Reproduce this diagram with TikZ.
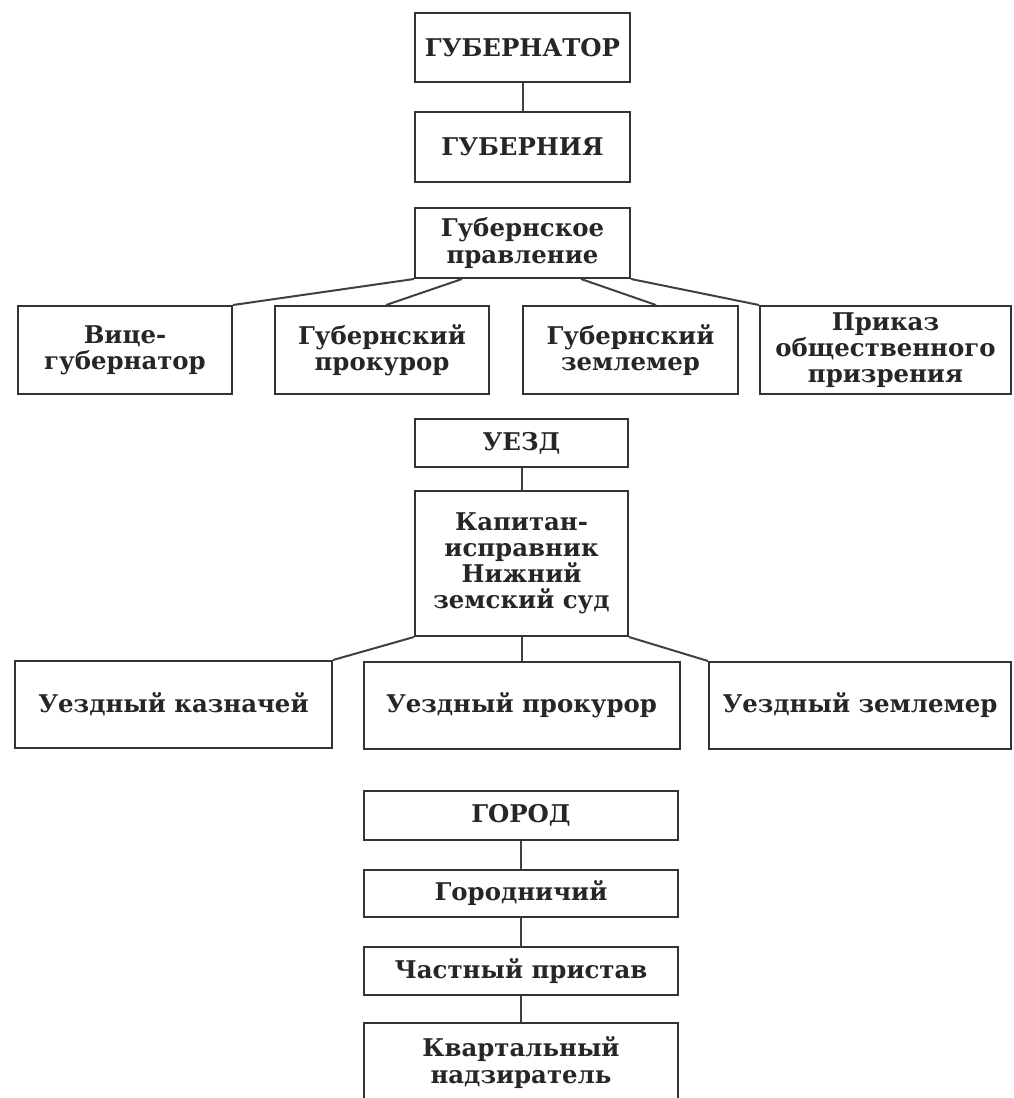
\documentclass[tikz,border=0pt]{standalone}
\usepackage{fontspec}
\setmainfont{DejaVu Serif}
\begin{document}
\begin{tikzpicture}[x=0.5pt,y=-0.5pt,
  box/.style={draw=black!80, line width=1pt, align=center, text=black!85,
    font=\bfseries\fontsize{12.2}{13.1}\selectfont, inner sep=0pt},
  link/.style={draw=black!75, line width=1pt}]
\useasboundingbox (0,0) rectangle (1013,1098);
\clip (0,0) rectangle (1013,1098);
% province
\node[box, minimum width=107.5pt, minimum height=34.5pt] (gubernator) at (522.5,47.5) {ГУБЕРНАТОР};
\node[box, minimum width=107.5pt, minimum height=35pt] (guberniya) at (522.5,147) {ГУБЕРНИЯ};
\node[box, minimum width=107.5pt, minimum height=35pt] (pravlenie) at (522.5,243) {Губернское\\правление};
\node[box, minimum width=107pt, minimum height=44pt] (vice) at (125,350) {Вице-\\губернатор};
\node[box, minimum width=107pt, minimum height=44pt] (gprokuror) at (382,350) {Губернский\\прокурор};
\node[box, minimum width=107.5pt, minimum height=44pt] (gzemlemer) at (630.5,350) {Губернский\\землемер};
\node[box, minimum width=125.5pt, minimum height=44pt] (prikaz) at (885.5,350) {Приказ\\общественного\\призрения};
% district
\node[box, minimum width=106.5pt, minimum height=24pt] (uezd) at (521.5,443) {УЕЗД};
\node[box, minimum width=106.5pt, minimum height=72.5pt] (kapitan) at (521.5,563.5) {Капитан-\\исправник\\Нижний\\земский суд};
\node[box, minimum width=158.5pt, minimum height=43.5pt] (kaznachey) at (173.5,704.5) {Уездный казначей};
\node[box, minimum width=158pt, minimum height=43.5pt] (uprokuror) at (521.5,705.5) {Уездный прокурор};
\node[box, minimum width=151pt, minimum height=43.5pt] (uzemlemer) at (860,705.5) {Уездный землемер};
% town
\node[box, minimum width=157pt, minimum height=24.5pt] (gorod) at (521,815.5) {ГОРОД};
\node[box, minimum width=157pt, minimum height=23.5pt] (gorodnichiy) at (521,893.5) {Городничий};
\node[box, minimum width=157pt, minimum height=24pt] (chastny) at (521,971) {Частный пристав};
\node[box, minimum width=157pt, minimum height=39.5pt] (kvartalny) at (521,1062.5) {Квартальный\\надзиратель};
% connectors
\draw[link] (gubernator.south) -- (guberniya.north);
\draw[link] (pravlenie.south west) -- (vice.north east);
\draw[link] ([xshift=-30.25pt]pravlenie.south) -- ([xshift=2pt]gprokuror.north);
\draw[link] ([xshift=29.25pt]pravlenie.south) -- ([xshift=12.75pt]gzemlemer.north);
\draw[link] (pravlenie.south east) -- (prikaz.north west);
\draw[link] (uezd.south) -- (kapitan.north);
\draw[link] (kapitan.south west) -- (kaznachey.north east);
\draw[link] (kapitan.south) -- (uprokuror.north);
\draw[link] (kapitan.south east) -- (uzemlemer.north west);
\draw[link] (gorod.south) -- (gorodnichiy.north);
\draw[link] (gorodnichiy.south) -- (chastny.north);
\draw[link] (chastny.south) -- (kvartalny.north);
\end{tikzpicture}
\end{document}
